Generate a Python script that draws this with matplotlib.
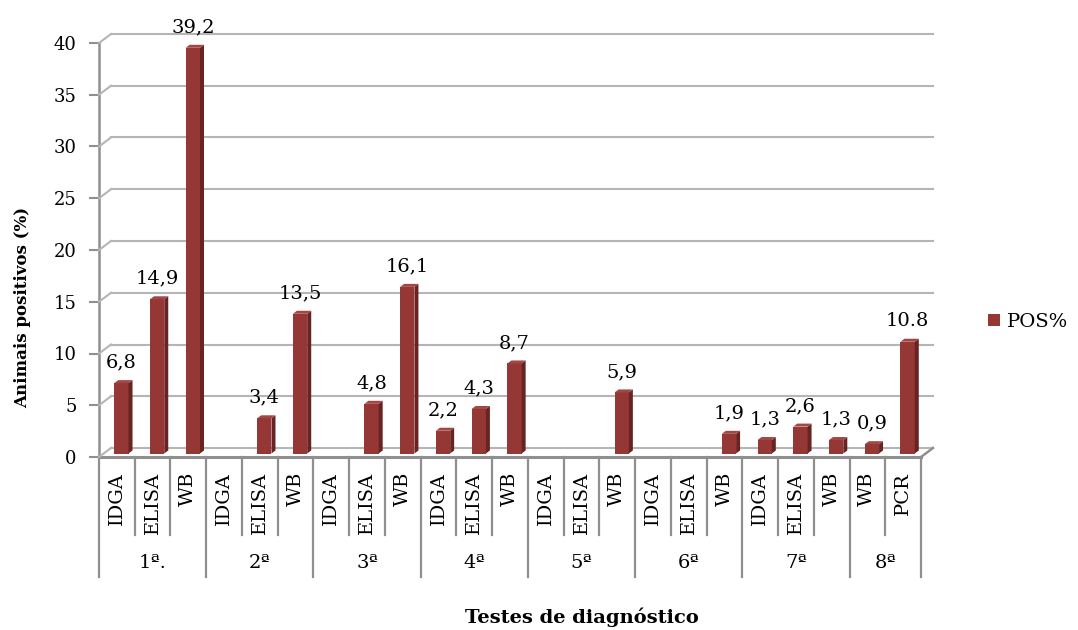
import matplotlib

matplotlib.use("Agg")
import matplotlib.pyplot as plt
from matplotlib.lines import Line2D
from matplotlib.patches import Polygon
from matplotlib.transforms import IdentityTransform, offset_copy


tests = ["IDGA", "ELISA", "WB", "IDGA", "ELISA", "WB", "IDGA", "ELISA", "WB",
         "IDGA", "ELISA", "WB", "IDGA", "ELISA", "WB", "IDGA", "ELISA", "WB",
         "IDGA", "ELISA", "WB", "WB", "PCR"]
pos_pct = [6.8, 14.9, 39.2, 0, 3.4, 13.5, 0, 4.8, 16.1, 2.2, 4.3, 8.7,
           0, 0, 5.9, 0, 0, 1.9, 1.3, 2.6, 1.3, 0.9, 10.8]
value_labels = ["6,8", "14,9", "39,2", "", "3,4", "13,5", "", "4,8", "16,1",
                "2,2", "4,3", "8,7", "", "", "5,9", "", "", "1,9", "1,3",
                "2,6", "1,3", "0,9", "10.8"]
groups = ["1ª.", "2ª", "3ª", "4ª", "5ª", "6ª", "7ª", "8ª"]
group_sizes = [3, 3, 3, 3, 3, 3, 3, 2]
y_ticks = [0, 5, 10, 15, 20, 25, 30, 35, 40]

FONT = "DejaVu Serif"
FRONT_COLOR = "#953735"
SIDE_COLOR = "#672422"
TOP_COLOR = "#a34644"
GRID_COLOR = "#b5b5b5"
AXIS_COLOR = "#8f8f8f"
BACK = (12, 9)        # pixel offset of the back wall
BAR_OFF = (4.5, 3.5)  # pixel offset of the bar front face
BAR_DEPTH = (4, 3)
BAR_W = 0.4

plt.rcParams["font.family"] = [FONT, "DejaVu Sans"]

fig = plt.figure(figsize=(10.78, 6.30), dpi=100)
ax = fig.add_axes([99 / 1078, 1 - 457 / 630, 822 / 1078, 414 / 630])
n = len(tests)
xs = list(range(n))
ax.set_xlim(-0.5, n - 0.5)
ax.set_ylim(0, 40)
for spine in ax.spines.values():
    spine.set_visible(False)
ax.set_xticks([])
ax.set_yticks(y_ticks)
ax.tick_params(axis="y", length=7, width=1.5, color=AXIS_COLOR, labelsize=13, pad=9)
for lab in ax.get_yticklabels():
    lab.set_fontfamily(FONT)

ident = IdentityTransform()
back = offset_copy(ax.transData, fig=fig, x=BACK[0], y=BACK[1], units="dots")


def disp(x, y):
    return ax.transData.transform((x, y))


# back wall gridlines and left diagonals
for v in y_ticks:
    ax.plot([-0.5, n - 0.5], [v, v], transform=back, color=GRID_COLOR, lw=1.5,
            clip_on=False, zorder=1)
    px, py = disp(-0.5, v)
    fig.add_artist(Line2D([px, px + BACK[0]], [py, py + BACK[1]], transform=ident,
                          color=GRID_COLOR, lw=1.5, zorder=1))

# floor edges and front axis
ax.plot([-0.5, -0.5], [0, 40], color=AXIS_COLOR, lw=1.8, clip_on=False, zorder=2)
ax.plot([-0.5, n - 0.5], [0, 0], color=AXIS_COLOR, lw=2.2, clip_on=False, zorder=2)
px, py = disp(n - 0.5, 0)
fig.add_artist(Line2D([px, px + BACK[0]], [py, py + BACK[1]], transform=ident,
                      color=AXIS_COLOR, lw=1.8, zorder=2))

# bars: front face through ax.bar, side and top faces from the same geometry
bar_tr = offset_copy(ax.transData, fig=fig, x=BAR_OFF[0], y=BAR_OFF[1], units="dots")
bars = ax.bar(xs, pos_pct, width=BAR_W, color=FRONT_COLOR, transform=bar_tr,
              linewidth=0, zorder=3, label="POS%")
dx, dy = BAR_DEPTH
for x, v, lab in zip(xs, pos_pct, value_labels):
    if v <= 0:
        continue
    xl, y0 = disp(x - BAR_W / 2, 0)
    xr, yt = disp(x + BAR_W / 2, v)
    xl += BAR_OFF[0]
    xr += BAR_OFF[0]
    y0 += BAR_OFF[1]
    yt += BAR_OFF[1]
    fig.add_artist(Polygon([(xr, y0), (xr + dx, y0 + dy), (xr + dx, yt + dy), (xr, yt)],
                           closed=True, transform=ident, facecolor=SIDE_COLOR,
                           edgecolor="none", zorder=3))
    fig.add_artist(Polygon([(xl, yt), (xr, yt), (xr + dx, yt + dy), (xl + dx, yt + dy)],
                           closed=True, transform=ident, facecolor=TOP_COLOR,
                           edgecolor="none", zorder=3))
    ax.annotate(lab, xy=(x, v), xytext=(BAR_OFF[0], 19), textcoords="offset pixels",
                ha="center", va="baseline", fontsize=14, fontfamily=FONT,
                annotation_clip=False, zorder=4)

# category table under the axis
xax = ax.get_xaxis_transform()
SUB_BOTTOM = -78 / 414
GROUP_BOTTOM = -120 / 414
group_edges = [0]
for s in group_sizes:
    group_edges.append(group_edges[-1] + s)
for b in range(n + 1):
    bottom = GROUP_BOTTOM if b in group_edges else SUB_BOTTOM
    ax.plot([b - 0.5, b - 0.5], [0, bottom], transform=xax, color=AXIS_COLOR,
            lw=1.6, clip_on=False, zorder=2)
for x, t in zip(xs, tests):
    ax.text(x, -15 / 414, t, transform=xax, rotation=90, ha="center", va="top",
            fontsize=14, fontfamily=FONT)
for g, start, s in zip(groups, group_edges[:-1], group_sizes):
    ax.text(start + (s - 1) / 2, -106 / 414, g, transform=xax, ha="center",
            va="center", fontsize=14, fontfamily=FONT)

fig.text(23 / 1078, 1 - 307 / 630, "Animais positivos (%)", rotation=90,
         ha="center", va="center", fontsize=12, fontweight="bold", fontfamily=FONT)
fig.text(582 / 1078, 1 - 617 / 630, "Testes de diagnóstico", ha="center",
         va="center", fontsize=14, fontweight="bold", fontfamily=FONT)

fig.legend(handles=[bars], labels=["POS%"], loc="center left",
           bbox_to_anchor=(984 / 1078, 1 - 322 / 630), frameon=False,
           handlelength=0.6, handleheight=0.6, handletextpad=0.4,
           borderaxespad=0.0, borderpad=0.2,
           prop={"family": FONT, "size": 14})

fig.savefig("out.png", dpi=100)
plt.close(fig)
